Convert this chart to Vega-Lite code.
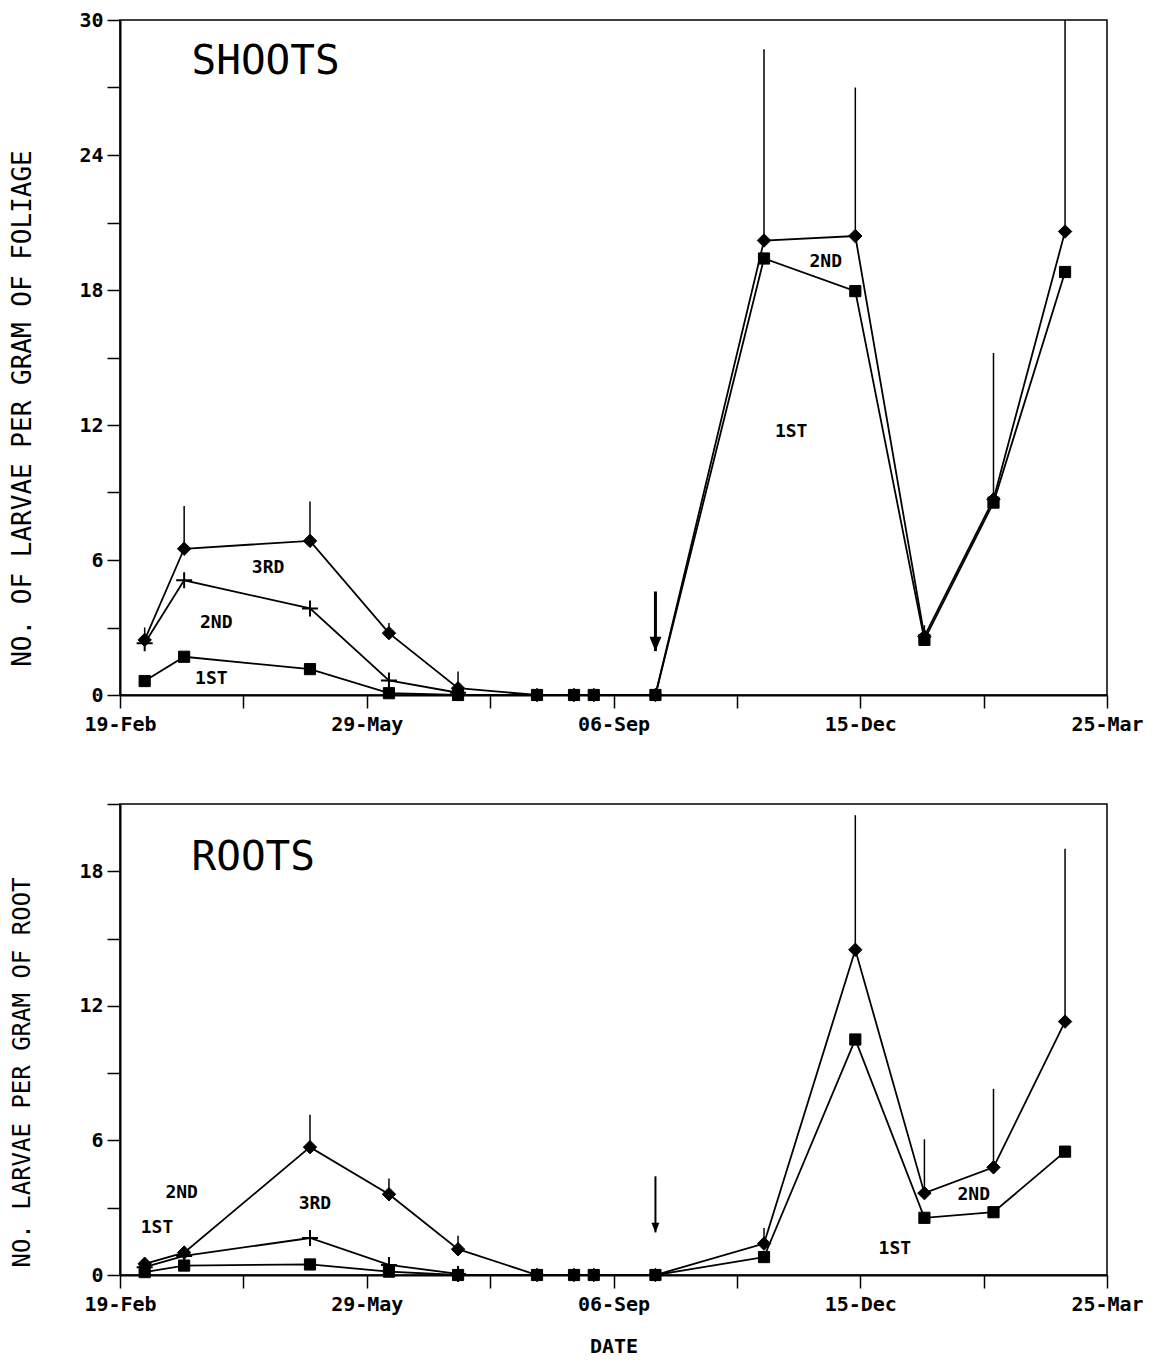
{
  "$schema": "https://vega.github.io/schema/vega-lite/v6.json",
  "padding": {"left": 8, "top": 9, "right": 4, "bottom": 2},
  "background": "white",
  "datasets": {
    "points": [
      {"panel": "SHOOTS", "series": "total", "date": "1988-02-29", "value": 2.45},
      {"panel": "SHOOTS", "series": "total", "date": "1988-03-16", "value": 6.5},
      {"panel": "SHOOTS", "series": "total", "date": "1988-05-06", "value": 6.85},
      {"panel": "SHOOTS", "series": "total", "date": "1988-06-07", "value": 2.75},
      {"panel": "SHOOTS", "series": "total", "date": "1988-07-05", "value": 0.3},
      {"panel": "SHOOTS", "series": "total", "date": "1988-08-06", "value": 0},
      {"panel": "SHOOTS", "series": "total", "date": "1988-08-21", "value": 0},
      {"panel": "SHOOTS", "series": "total", "date": "1988-08-29", "value": 0},
      {"panel": "SHOOTS", "series": "total", "date": "1988-09-23", "value": 0},
      {"panel": "SHOOTS", "series": "total", "date": "1988-11-06", "value": 20.2},
      {"panel": "SHOOTS", "series": "total", "date": "1988-12-13", "value": 20.4},
      {"panel": "SHOOTS", "series": "total", "date": "1989-01-10", "value": 2.6},
      {"panel": "SHOOTS", "series": "total", "date": "1989-02-07", "value": 8.7},
      {"panel": "SHOOTS", "series": "total", "date": "1989-03-08", "value": 20.6},
      {"panel": "SHOOTS", "series": "1st-2nd", "date": "1988-02-29", "value": 2.3},
      {"panel": "SHOOTS", "series": "1st-2nd", "date": "1988-03-16", "value": 5.1},
      {"panel": "SHOOTS", "series": "1st-2nd", "date": "1988-05-06", "value": 3.85},
      {"panel": "SHOOTS", "series": "1st-2nd", "date": "1988-06-07", "value": 0.65},
      {"panel": "SHOOTS", "series": "1st-2nd", "date": "1988-07-05", "value": 0.1},
      {"panel": "SHOOTS", "series": "1st", "date": "1988-02-29", "value": 0.62},
      {"panel": "SHOOTS", "series": "1st", "date": "1988-03-16", "value": 1.7},
      {"panel": "SHOOTS", "series": "1st", "date": "1988-05-06", "value": 1.15},
      {"panel": "SHOOTS", "series": "1st", "date": "1988-06-07", "value": 0.08},
      {"panel": "SHOOTS", "series": "1st", "date": "1988-07-05", "value": 0},
      {"panel": "SHOOTS", "series": "1st", "date": "1988-08-06", "value": 0},
      {"panel": "SHOOTS", "series": "1st", "date": "1988-08-21", "value": 0},
      {"panel": "SHOOTS", "series": "1st", "date": "1988-08-29", "value": 0},
      {"panel": "SHOOTS", "series": "1st", "date": "1988-09-23", "value": 0},
      {"panel": "SHOOTS", "series": "1st", "date": "1988-11-06", "value": 19.4},
      {"panel": "SHOOTS", "series": "1st", "date": "1988-12-13", "value": 17.95},
      {"panel": "SHOOTS", "series": "1st", "date": "1989-01-10", "value": 2.45},
      {"panel": "SHOOTS", "series": "1st", "date": "1989-02-07", "value": 8.55},
      {"panel": "SHOOTS", "series": "1st", "date": "1989-03-08", "value": 18.8},
      {"panel": "ROOTS", "series": "total", "date": "1988-02-29", "value": 0.5},
      {"panel": "ROOTS", "series": "total", "date": "1988-03-16", "value": 1.0},
      {"panel": "ROOTS", "series": "total", "date": "1988-05-06", "value": 5.7},
      {"panel": "ROOTS", "series": "total", "date": "1988-06-07", "value": 3.6},
      {"panel": "ROOTS", "series": "total", "date": "1988-07-05", "value": 1.15},
      {"panel": "ROOTS", "series": "total", "date": "1988-08-06", "value": 0},
      {"panel": "ROOTS", "series": "total", "date": "1988-08-21", "value": 0},
      {"panel": "ROOTS", "series": "total", "date": "1988-08-29", "value": 0},
      {"panel": "ROOTS", "series": "total", "date": "1988-09-23", "value": 0},
      {"panel": "ROOTS", "series": "total", "date": "1988-11-06", "value": 1.4},
      {"panel": "ROOTS", "series": "total", "date": "1988-12-13", "value": 14.5},
      {"panel": "ROOTS", "series": "total", "date": "1989-01-10", "value": 3.65},
      {"panel": "ROOTS", "series": "total", "date": "1989-02-07", "value": 4.8},
      {"panel": "ROOTS", "series": "total", "date": "1989-03-08", "value": 11.3},
      {"panel": "ROOTS", "series": "1st-2nd", "date": "1988-02-29", "value": 0.35},
      {"panel": "ROOTS", "series": "1st-2nd", "date": "1988-03-16", "value": 0.85},
      {"panel": "ROOTS", "series": "1st-2nd", "date": "1988-05-06", "value": 1.65},
      {"panel": "ROOTS", "series": "1st-2nd", "date": "1988-06-07", "value": 0.45},
      {"panel": "ROOTS", "series": "1st-2nd", "date": "1988-07-05", "value": 0.05},
      {"panel": "ROOTS", "series": "1st", "date": "1988-02-29", "value": 0.13},
      {"panel": "ROOTS", "series": "1st", "date": "1988-03-16", "value": 0.42},
      {"panel": "ROOTS", "series": "1st", "date": "1988-05-06", "value": 0.47},
      {"panel": "ROOTS", "series": "1st", "date": "1988-06-07", "value": 0.15},
      {"panel": "ROOTS", "series": "1st", "date": "1988-07-05", "value": 0},
      {"panel": "ROOTS", "series": "1st", "date": "1988-08-06", "value": 0},
      {"panel": "ROOTS", "series": "1st", "date": "1988-08-21", "value": 0},
      {"panel": "ROOTS", "series": "1st", "date": "1988-08-29", "value": 0},
      {"panel": "ROOTS", "series": "1st", "date": "1988-09-23", "value": 0},
      {"panel": "ROOTS", "series": "1st", "date": "1988-11-06", "value": 0.8},
      {"panel": "ROOTS", "series": "1st", "date": "1988-12-13", "value": 10.5},
      {"panel": "ROOTS", "series": "1st", "date": "1989-01-10", "value": 2.55},
      {"panel": "ROOTS", "series": "1st", "date": "1989-02-07", "value": 2.8},
      {"panel": "ROOTS", "series": "1st", "date": "1989-03-08", "value": 5.5}
    ],
    "errors": [
      {"panel": "SHOOTS", "date": "1988-02-29", "value": 2.45, "upper": 3.0},
      {"panel": "SHOOTS", "date": "1988-03-16", "value": 6.5, "upper": 8.4},
      {"panel": "SHOOTS", "date": "1988-05-06", "value": 6.85, "upper": 8.6},
      {"panel": "SHOOTS", "date": "1988-06-07", "value": 2.75, "upper": 3.2},
      {"panel": "SHOOTS", "date": "1988-07-05", "value": 0.3, "upper": 1.05},
      {"panel": "SHOOTS", "date": "1988-11-06", "value": 20.2, "upper": 28.7},
      {"panel": "SHOOTS", "date": "1988-12-13", "value": 20.4, "upper": 27.0},
      {"panel": "SHOOTS", "date": "1989-01-10", "value": 2.6, "upper": 3.1},
      {"panel": "SHOOTS", "date": "1989-02-07", "value": 8.7, "upper": 15.2},
      {"panel": "SHOOTS", "date": "1989-03-08", "value": 20.6, "upper": 30},
      {"panel": "ROOTS", "date": "1988-05-06", "value": 5.7, "upper": 7.15},
      {"panel": "ROOTS", "date": "1988-06-07", "value": 3.6, "upper": 4.3},
      {"panel": "ROOTS", "date": "1988-07-05", "value": 1.15, "upper": 1.75},
      {"panel": "ROOTS", "date": "1988-11-06", "value": 1.4, "upper": 2.1},
      {"panel": "ROOTS", "date": "1988-12-13", "value": 14.5, "upper": 20.5},
      {"panel": "ROOTS", "date": "1989-01-10", "value": 3.65, "upper": 6.05},
      {"panel": "ROOTS", "date": "1989-02-07", "value": 4.8, "upper": 8.3},
      {"panel": "ROOTS", "date": "1989-03-08", "value": 11.3, "upper": 19.0}
    ],
    "labels": [
      {"panel": "SHOOTS", "date": "1988-04-19", "value": 5.64, "text": "3RD"},
      {"panel": "SHOOTS", "date": "1988-03-29", "value": 3.2, "text": "2ND"},
      {"panel": "SHOOTS", "date": "1988-03-27", "value": 0.71, "text": "1ST"},
      {"panel": "SHOOTS", "date": "1988-12-01", "value": 19.24, "text": "2ND"},
      {"panel": "SHOOTS", "date": "1988-11-17", "value": 11.69, "text": "1ST"},
      {"panel": "ROOTS", "date": "1988-03-15", "value": 3.66, "text": "2ND"},
      {"panel": "ROOTS", "date": "1988-03-05", "value": 2.1, "text": "1ST"},
      {"panel": "ROOTS", "date": "1988-05-08", "value": 3.17, "text": "3RD"},
      {"panel": "ROOTS", "date": "1989-01-30", "value": 3.57, "text": "2ND"},
      {"panel": "ROOTS", "date": "1988-12-29", "value": 1.16, "text": "1ST"}
    ],
    "names": [
      {"panel": "SHOOTS", "date": "1988-03-19", "value": 27.6, "text": "SHOOTS"},
      {"panel": "ROOTS", "date": "1988-03-19", "value": 18.06, "text": "ROOTS"}
    ],
    "arrows": [
      {"panel": "SHOOTS", "date": "1988-09-23", "from": 4.6, "to": 1.95},
      {"panel": "ROOTS", "date": "1988-09-23", "from": 4.4, "to": 1.9}
    ]
  },
  "config": {
    "view": {"stroke": "black", "strokeWidth": 1.5},
    "axis": {
      "grid": false,
      "domainColor": "black",
      "domainWidth": 2,
      "tickColor": "black",
      "tickWidth": 1.5,
      "tickSize": 13,
      "labelFont": "DejaVu Sans Mono",
      "labelFontWeight": "bold",
      "labelFontSize": 20,
      "labelColor": "black",
      "labelOverlap": false,
      "labelFlush": false,
      "titleFont": "DejaVu Sans Mono",
      "titleFontWeight": "normal",
      "titleColor": "black"
    }
  },
  "vconcat": [
    {
      "width": 987,
      "height": 675,
      "encoding": {
        "x": {
          "field": "date", "type": "temporal",
          "scale": {"type": "utc", "domain": [{"year": 1988, "month": 2, "date": 19, "utc": true}, {"year": 1989, "month": 3, "date": 25, "utc": true}]},
          "axis": {
            "title": null, "format": "%d-%b", "labelPadding": 6,
            "values": [
              {"year": 1988, "month": 2, "date": 19, "utc": true},
              {"year": 1988, "month": 4, "date": 9, "utc": true},
              {"year": 1988, "month": 5, "date": 29, "utc": true},
              {"year": 1988, "month": 7, "date": 18, "utc": true},
              {"year": 1988, "month": 9, "date": 6, "utc": true},
              {"year": 1988, "month": 10, "date": 26, "utc": true},
              {"year": 1988, "month": 12, "date": 15, "utc": true},
              {"year": 1989, "month": 2, "date": 3, "utc": true},
              {"year": 1989, "month": 3, "date": 25, "utc": true}
            ],
            "labelExpr": "indexof(['19-Feb','29-May','06-Sep','15-Dec','25-Mar'], datum.label) >= 0 ? datum.label : ''"
          }
        }
      },
      "layer": [
        {
          "data": {"name": "errors"},
          "transform": [{"filter": "datum.panel === 'SHOOTS'"}],
          "mark": {"type": "rule", "color": "black", "strokeWidth": 1.5},
          "encoding": {
            "y": {"field": "value", "type": "quantitative",
                  "scale": {"domain": [0, 30], "nice": false},
                  "axis": {
                    "title": "NO. OF LARVAE PER GRAM OF FOLIAGE",
                    "titleFontSize": 26, "titleAngle": 270, "titleAlign": "center", "titleBaseline": "middle",
                    "titleX": -98, "titleY": 388, "labelPadding": 4,
                    "values": [0, 3, 6, 9, 12, 15, 18, 21, 24, 27, 30],
                    "labelExpr": "datum.value % 6 === 0 ? datum.label : ''"
                  }},
            "y2": {"field": "upper"}
          }
        },
        {
          "data": {"name": "points"},
          "transform": [{"filter": "datum.panel === 'SHOOTS'"}],
          "mark": {"type": "line", "color": "black", "strokeWidth": 1.8},
          "encoding": {
            "y": {"field": "value", "type": "quantitative"},
            "detail": {"field": "series"}
          }
        },
        {
          "data": {"name": "points"},
          "transform": [{"filter": "datum.panel === 'SHOOTS' && datum.series === 'total'"}],
          "mark": {"type": "point", "filled": true, "color": "black", "stroke": "black", "strokeWidth": 1, "opacity": 1, "shape": "diamond", "size": 180},
          "encoding": {"y": {"field": "value", "type": "quantitative"}}
        },
        {
          "data": {"name": "points"},
          "transform": [{"filter": "datum.panel === 'SHOOTS' && datum.series === '1st-2nd'"}],
          "mark": {"type": "point", "filled": false, "stroke": "black", "strokeWidth": 2, "opacity": 1, "shape": "M-1,0L1,0M0,-1L0,1", "size": 256},
          "encoding": {"y": {"field": "value", "type": "quantitative"}}
        },
        {
          "data": {"name": "points"},
          "transform": [{"filter": "datum.panel === 'SHOOTS' && datum.series === '1st'"}],
          "mark": {"type": "point", "filled": true, "color": "black", "stroke": "black", "strokeWidth": 1, "opacity": 1, "shape": "square", "size": 125},
          "encoding": {"y": {"field": "value", "type": "quantitative"}}
        },
        {
          "data": {"name": "labels"},
          "transform": [{"filter": "datum.panel === 'SHOOTS'"}],
          "mark": {"type": "text", "font": "DejaVu Sans Mono", "fontWeight": "bold", "fontSize": 18, "color": "black", "align": "center", "baseline": "middle"},
          "encoding": {
            "y": {"field": "value", "type": "quantitative"},
            "text": {"field": "text"}
          }
        },
        {
          "data": {"name": "names"},
          "transform": [{"filter": "datum.panel === 'SHOOTS'"}],
          "mark": {"type": "text", "font": "DejaVu Sans Mono", "fontSize": 41, "color": "black", "align": "left", "baseline": "alphabetic"},
          "encoding": {
            "y": {"field": "value", "type": "quantitative"},
            "text": {"field": "text"}
          }
        },
        {
          "data": {"name": "arrows"},
          "transform": [{"filter": "datum.panel === 'SHOOTS'"}],
          "mark": {"type": "rule", "color": "black", "strokeWidth": 3},
          "encoding": {
            "y": {"field": "from", "type": "quantitative"},
            "y2": {"field": "to"}
          }
        },
        {
          "data": {"name": "arrows"},
          "transform": [{"filter": "datum.panel === 'SHOOTS'"}],
          "mark": {"type": "point", "filled": true, "color": "black", "opacity": 1, "size": 144, "shape": "M-1,-2.4L1,-2.4L0,0Z"},
          "encoding": {
            "y": {"field": "to", "type": "quantitative"}
          }
        }
      ]
    },
    {
      "width": 987,
      "height": 471,
      "encoding": {
        "x": {
          "field": "date", "type": "temporal",
          "scale": {"type": "utc", "domain": [{"year": 1988, "month": 2, "date": 19, "utc": true}, {"year": 1989, "month": 3, "date": 25, "utc": true}]},
          "axis": {
            "title": "DATE", "titleFontSize": 20, "titleFontWeight": "bold", "titlePadding": 22, "format": "%d-%b", "labelPadding": 6,
            "values": [
              {"year": 1988, "month": 2, "date": 19, "utc": true},
              {"year": 1988, "month": 4, "date": 9, "utc": true},
              {"year": 1988, "month": 5, "date": 29, "utc": true},
              {"year": 1988, "month": 7, "date": 18, "utc": true},
              {"year": 1988, "month": 9, "date": 6, "utc": true},
              {"year": 1988, "month": 10, "date": 26, "utc": true},
              {"year": 1988, "month": 12, "date": 15, "utc": true},
              {"year": 1989, "month": 2, "date": 3, "utc": true},
              {"year": 1989, "month": 3, "date": 25, "utc": true}
            ],
            "labelExpr": "indexof(['19-Feb','29-May','06-Sep','15-Dec','25-Mar'], datum.label) >= 0 ? datum.label : ''"
          }
        }
      },
      "layer": [
        {
          "data": {"name": "errors"},
          "transform": [{"filter": "datum.panel === 'ROOTS'"}],
          "mark": {"type": "rule", "color": "black", "strokeWidth": 1.5},
          "encoding": {
            "y": {"field": "value", "type": "quantitative",
                  "scale": {"domain": [0, 21], "nice": false},
                  "axis": {
                    "title": "NO. LARVAE PER GRAM OF ROOT",
                    "titleFontSize": 24, "titleAngle": 270, "titleAlign": "center", "titleBaseline": "middle",
                    "titleX": -98, "titleY": 268, "labelPadding": 4,
                    "values": [0, 3, 6, 9, 12, 15, 18, 21],
                    "labelExpr": "datum.value % 6 === 0 && datum.value < 21 ? datum.label : ''"
                  }},
            "y2": {"field": "upper"}
          }
        },
        {
          "data": {"name": "points"},
          "transform": [{"filter": "datum.panel === 'ROOTS'"}],
          "mark": {"type": "line", "color": "black", "strokeWidth": 1.8},
          "encoding": {
            "y": {"field": "value", "type": "quantitative"},
            "detail": {"field": "series"}
          }
        },
        {
          "data": {"name": "points"},
          "transform": [{"filter": "datum.panel === 'ROOTS' && datum.series === 'total'"}],
          "mark": {"type": "point", "filled": true, "color": "black", "stroke": "black", "strokeWidth": 1, "opacity": 1, "shape": "diamond", "size": 180},
          "encoding": {"y": {"field": "value", "type": "quantitative"}}
        },
        {
          "data": {"name": "points"},
          "transform": [{"filter": "datum.panel === 'ROOTS' && datum.series === '1st-2nd'"}],
          "mark": {"type": "point", "filled": false, "stroke": "black", "strokeWidth": 2, "opacity": 1, "shape": "M-1,0L1,0M0,-1L0,1", "size": 256},
          "encoding": {"y": {"field": "value", "type": "quantitative"}}
        },
        {
          "data": {"name": "points"},
          "transform": [{"filter": "datum.panel === 'ROOTS' && datum.series === '1st'"}],
          "mark": {"type": "point", "filled": true, "color": "black", "stroke": "black", "strokeWidth": 1, "opacity": 1, "shape": "square", "size": 125},
          "encoding": {"y": {"field": "value", "type": "quantitative"}}
        },
        {
          "data": {"name": "labels"},
          "transform": [{"filter": "datum.panel === 'ROOTS'"}],
          "mark": {"type": "text", "font": "DejaVu Sans Mono", "fontWeight": "bold", "fontSize": 18, "color": "black", "align": "center", "baseline": "middle"},
          "encoding": {
            "y": {"field": "value", "type": "quantitative"},
            "text": {"field": "text"}
          }
        },
        {
          "data": {"name": "names"},
          "transform": [{"filter": "datum.panel === 'ROOTS'"}],
          "mark": {"type": "text", "font": "DejaVu Sans Mono", "fontSize": 41, "color": "black", "align": "left", "baseline": "alphabetic"},
          "encoding": {
            "y": {"field": "value", "type": "quantitative"},
            "text": {"field": "text"}
          }
        },
        {
          "data": {"name": "arrows"},
          "transform": [{"filter": "datum.panel === 'ROOTS'"}],
          "mark": {"type": "rule", "color": "black", "strokeWidth": 2},
          "encoding": {
            "y": {"field": "from", "type": "quantitative"},
            "y2": {"field": "to"}
          }
        },
        {
          "data": {"name": "arrows"},
          "transform": [{"filter": "datum.panel === 'ROOTS'"}],
          "mark": {"type": "point", "filled": true, "color": "black", "opacity": 1, "size": 64, "shape": "M-1,-2.4L1,-2.4L0,0Z"},
          "encoding": {
            "y": {"field": "to", "type": "quantitative"}
          }
        }
      ]
    }
  ],
  "spacing": 109,
  "bounds": "flush"
}
